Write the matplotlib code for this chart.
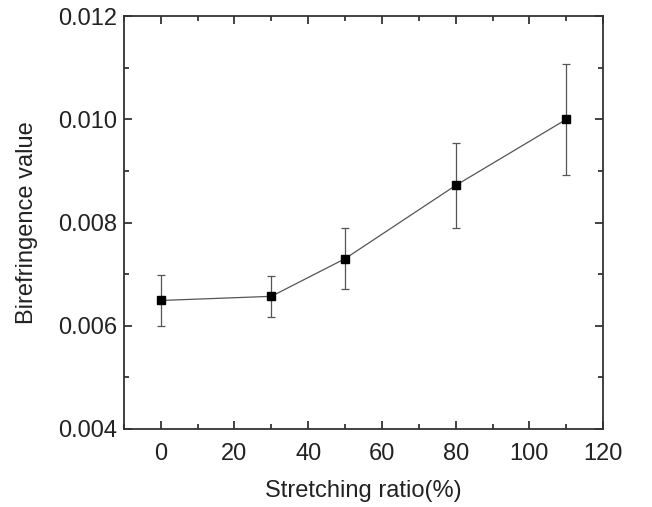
import matplotlib.pyplot as plt
from matplotlib.ticker import MultipleLocator

plt.rcParams['font.family'] = ['Liberation Sans', 'DejaVu Sans']

stretch = [0, 30, 50, 80, 110]
biref = [0.00649, 0.00657, 0.0073, 0.00872, 0.0100]
biref_err = [0.0005, 0.0004, 0.00059, 0.00082, 0.00107]

fig = plt.figure(figsize=(6.52, 5.07), dpi=100)
ax = fig.add_axes([0.190, 0.154, 0.735, 0.814])

ax.errorbar(stretch, biref, yerr=biref_err, fmt='s-', color='#555555', lw=0.9,
            ecolor='#555555', elinewidth=0.9, capsize=3, capthick=0.9,
            mfc='black', mec='black', ms=6)

ax.set_xlim(-10, 120)
ax.set_ylim(0.004, 0.012)
ax.xaxis.set_major_locator(MultipleLocator(20))
ax.xaxis.set_minor_locator(MultipleLocator(10))
ax.yaxis.set_major_locator(MultipleLocator(0.002))
ax.yaxis.set_minor_locator(MultipleLocator(0.001))
ax.yaxis.set_major_formatter(plt.FormatStrFormatter('%.3f'))

ax.tick_params(which='both', direction='in', top=True, right=True, labelsize=17,
               width=1.2, colors='#222222')
ax.tick_params(which='major', length=6)
ax.tick_params(axis='x', which='major', pad=10)
ax.tick_params(axis='y', which='major', pad=5)
ax.tick_params(which='minor', length=3.5)
for s in ax.spines.values():
    s.set_linewidth(1.3)
    s.set_color('#333333')

ax.set_xlabel('Stretching ratio(%)', fontsize=17, labelpad=11, color='#222222')
ax.set_ylabel('Birefringence value', fontsize=17, labelpad=14, color='#222222')

fig.savefig('out.png', dpi=100)
